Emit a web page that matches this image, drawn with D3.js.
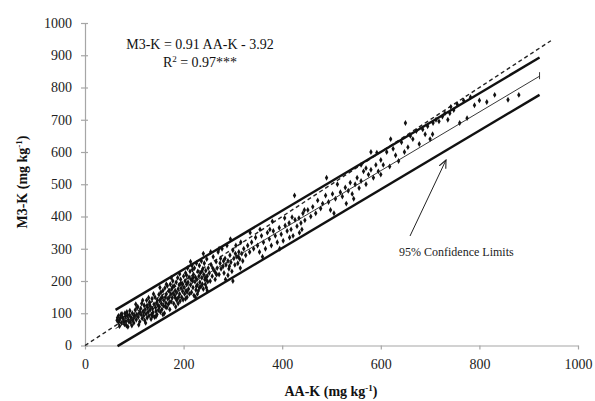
<!DOCTYPE html>
<html>
<head>
<meta charset="utf-8">
<script src="https://cdn.jsdelivr.net/npm/d3@7"></script>
<style>
  body { margin: 0; background: #fff; }
  svg { display: block; font-family: "Liberation Serif", "DejaVu Serif", serif; }
</style>
</head>
<body>
<div id="chart"></div>
<script>
// AA-K (x) and M3-K (y) values
var aaK = [
  65,68,70,72,74,75,78,80,82,83,85,87,88,90,92,93,95,96,98,99,100,70,76,84,91,97,66,79,86,94,
  102,104,105,107,108,110,111,113,114,115,116,118,119,120,121,122,124,125,126,127,128,130,131,132,133,135,136,137,138,140,141,142,143,144,145,146,147,148,149,150,103,109,117,123,129,134,139,112,126,144,
  151,152,153,154,155,156,157,158,159,160,161,162,163,164,165,166,167,168,169,170,171,172,173,174,175,176,177,178,179,180,181,182,183,184,185,186,187,188,189,190,191,192,193,194,195,196,197,198,199,200,152,158,165,172,178,186,192,198,175,189,
  201,202,203,204,205,206,207,208,209,210,211,212,213,214,215,216,217,218,219,220,221,222,223,224,225,226,227,228,229,230,231,232,233,234,235,236,237,238,239,240,241,242,243,244,245,246,247,248,249,250,204,214,224,232,240,248,206,218,228,244,
  252,254,256,258,260,262,264,266,268,270,272,274,276,278,280,282,284,286,288,290,292,294,296,298,300,302,304,306,308,310,312,314,316,318,320,255,265,275,285,295,305,315,272,290,300,
  322,326,330,334,338,342,346,350,354,358,362,366,370,374,378,382,386,390,394,398,402,406,410,414,418,422,426,430,434,438,442,446,335,355,375,395,415,435,425,445,360,380,405,420,440,
  452,458,462,468,472,478,482,488,494,498,502,508,512,518,522,528,534,538,542,548,552,556,560,565,570,575,580,585,590,595,600,490,530,560,580,505,545,570,592,600,
  605,612,618,625,630,636,642,648,655,660,665,672,678,685,690,695,700,706,712,718,725,730,736,742,748,755,760,768,775,782,790,800,815,831,858,880,620,650,705,740,
  68,73,81,89,101,106,119,131,137,154,163,171,183,194,207,219,226,237,246,259,267,281,293,311
];
var m3K = [
  78,92,60,85,70,98,82,66,90,75,104,58,80,95,72,88,62,100,84,70,92,80,88,62,108,78,86,74,94,82,
  110,80,96,120,88,100,74,115,96,130,84,106,92,125,78,112,98,140,86,118,104,92,134,110,120,96,145,114,102,128,88,150,118,106,132,96,140,124,110,158,128,64,140,70,148,82,160,104,124,90,
  120,140,104,165,130,112,150,170,124,140,100,178,150,132,160,118,185,145,128,170,150,112,190,160,136,175,148,200,162,130,185,155,170,120,196,164,145,210,175,150,188,160,138,205,178,150,192,168,142,215,180,96,190,135,182,140,222,190,210,130,
  180,160,200,225,170,190,150,240,196,175,212,160,230,188,205,165,248,200,180,220,155,240,198,212,172,255,205,188,230,170,215,248,196,225,182,262,210,190,238,175,220,255,205,190,232,180,268,215,198,240,145,260,150,180,285,170,218,235,160,210,
  225,200,250,215,275,232,205,260,240,290,220,255,238,300,245,225,270,250,310,262,238,280,258,230,295,270,250,310,275,255,290,268,320,285,262,290,225,270,205,330,285,240,300,218,200,
  300,280,310,290,320,300,335,310,290,340,320,300,350,330,310,355,340,320,365,345,325,372,355,380,360,340,390,370,395,380,410,388,350,360,360,300,335,350,465,420,275,385,395,398,360,
  420,400,430,410,450,425,440,465,445,420,470,455,500,475,462,490,480,505,470,500,520,488,510,540,500,530,545,520,560,540,575,520,440,560,600,410,455,550,598,530,
  560,600,555,610,590,572,630,600,615,650,640,665,625,670,655,680,640,690,700,695,710,720,700,740,730,748,690,760,705,770,745,760,755,777,762,777,640,690,655,720,
  72,96,100,74,90,118,102,128,92,146,120,170,148,192,166,210,184,230,204,240,220,262,246,275
];
var xTicks = [0, 200, 400, 600, 800, 1000];
var yTicks = [0, 100, 200, 300, 400, 500, 600, 700, 800, 900, 1000];
var slope = 0.91, intercept = -3.92;
var clOffset = 58; // half-width of the 95% confidence band
var fitRange = [62, 922];
var lowerStart = 66;
var oneToOneEnd = 945;

var width = 595, height = 401;
var x = d3.scaleLinear().domain([0, 1000]).range([85, 578]);
var y = d3.scaleLinear().domain([0, 1000]).range([345.5, 23]);

var svg = d3.select("#chart").append("svg")
  .attr("width", width)
  .attr("height", height);

// axes
var axisColor = "#a6a6a6";
var xAxis = svg.append("g")
  .attr("transform", "translate(0," + y(0) + ")")
  .call(d3.axisBottom(x).tickValues(xTicks).tickFormat(d3.format("d"))
    .tickSize(4).tickPadding(10).tickSizeOuter(0));
var yAxis = svg.append("g")
  .attr("transform", "translate(" + x(0) + ",0)")
  .call(d3.axisLeft(y).tickValues(yTicks).tickFormat(d3.format("d"))
    .tickSize(4).tickPadding(9).tickSizeOuter(0));

[xAxis, yAxis].forEach(function(g) {
  g.attr("font-family", "Liberation Serif, serif").attr("font-size", 14);
  g.select(".domain").attr("stroke", axisColor).attr("stroke-width", 1.2);
  g.selectAll(".tick line").attr("stroke", axisColor).attr("stroke-width", 1.2);
  g.selectAll(".tick text").attr("fill", "#222");
});
// y ticks cross the axis a little
yAxis.selectAll(".tick line").attr("x1", 3);

// 1:1 dashed line
svg.append("line")
  .attr("x1", x(0)).attr("y1", y(0))
  .attr("x2", x(oneToOneEnd)).attr("y2", y(oneToOneEnd))
  .attr("stroke", "#222")
  .attr("stroke-width", 1.4)
  .attr("stroke-dasharray", "4,3");

// points
svg.append("g").selectAll("path")
  .data(aaK)
  .enter().append("path")
  .attr("d", d3.symbol().type(d3.symbolDiamond).size(10))
  .attr("transform", function(d, i) { return "translate(" + x(d) + "," + y(m3K[i]) + ")"; })
  .attr("fill", "#111");

function fit(v) { return slope * v + intercept; }

// regression line (thin) with end tick
svg.append("line")
  .attr("x1", x(fitRange[0])).attr("y1", y(fit(fitRange[0])))
  .attr("x2", x(fitRange[1])).attr("y2", y(fit(fitRange[1])))
  .attr("stroke", "#222").attr("stroke-width", 0.9);
svg.append("line")
  .attr("x1", x(fitRange[1])).attr("y1", y(fit(fitRange[1])) - 4)
  .attr("x2", x(fitRange[1])).attr("y2", y(fit(fitRange[1])) + 3)
  .attr("stroke", "#222").attr("stroke-width", 0.9);

// confidence limits (thick)
svg.append("line")
  .attr("x1", x(fitRange[0])).attr("y1", y(fit(fitRange[0]) + clOffset))
  .attr("x2", x(fitRange[1])).attr("y2", y(fit(fitRange[1]) + clOffset))
  .attr("stroke", "#111").attr("stroke-width", 2.4);
svg.append("line")
  .attr("x1", x(lowerStart)).attr("y1", y(fit(lowerStart) - clOffset))
  .attr("x2", x(fitRange[1])).attr("y2", y(fit(fitRange[1]) - clOffset))
  .attr("stroke", "#111").attr("stroke-width", 2.4);

// equation
svg.append("text")
  .attr("x", 200).attr("y", 49)
  .attr("text-anchor", "middle")
  .style("font-size", "14px")
  .attr("fill", "#111")
  .text("M3-K = 0.91 AA-K  - 3.92");
var r2 = svg.append("text")
  .attr("x", 200).attr("y", 67)
  .attr("text-anchor", "middle")
  .style("font-size", "14px")
  .attr("fill", "#111");
r2.append("tspan").text("R");
r2.append("tspan").attr("dy", -5).style("font-size", "9px").text("2");
r2.append("tspan").attr("dy", 5).text(" = 0.97***");

// annotation arrow
svg.append("defs").append("marker")
  .attr("id", "arrow")
  .attr("viewBox", "0 0 10 10")
  .attr("refX", 9).attr("refY", 5)
  .attr("markerWidth", 9).attr("markerHeight", 9)
  .attr("orient", "auto")
  .append("path")
  .attr("d", "M0,1 L9,5 L0,9")
  .attr("fill", "none")
  .attr("stroke", "#222")
  .attr("stroke-width", 1.2);
svg.append("line")
  .attr("x1", 410).attr("y1", 236)
  .attr("x2", 446).attr("y2", 160)
  .attr("stroke", "#222").attr("stroke-width", 1)
  .attr("marker-end", "url(#arrow)");
svg.append("text")
  .attr("x", 399).attr("y", 256)
  .style("font-size", "12px")
  .attr("fill", "#222")
  .text("95% Confidence Limits");

// axis titles
var xt = svg.append("text")
  .attr("x", 331).attr("y", 396)
  .attr("text-anchor", "middle")
  .style("font-size", "14px").style("font-weight", "bold")
  .attr("fill", "#111");
xt.append("tspan").text("AA-K  (mg kg");
xt.append("tspan").attr("dy", -5).style("font-size", "9px").text("-1");
xt.append("tspan").attr("dy", 5).text(")");

var yt = svg.append("text")
  .attr("transform", "translate(27,182) rotate(-90)")
  .attr("text-anchor", "middle")
  .style("font-size", "14px").style("font-weight", "bold")
  .attr("fill", "#111");
yt.append("tspan").text("M3-K (mg kg");
yt.append("tspan").attr("dy", -5).style("font-size", "9px").text("-1");
yt.append("tspan").attr("dy", 5).text(")");
</script>
</body>
</html>
